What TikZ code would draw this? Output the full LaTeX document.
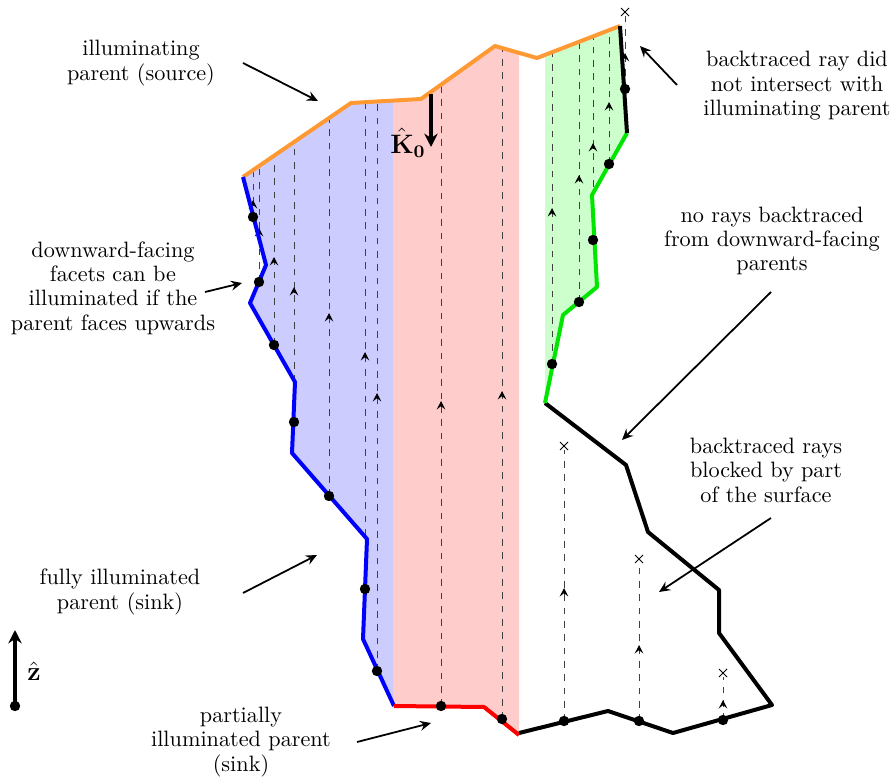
\documentclass[tikz,border=0pt]{standalone}
\usetikzlibrary{arrows.meta}
\definecolor{orangeline}{RGB}{255,153,51}
\definecolor{greenline}{RGB}{0,230,0}
\definecolor{bluefill}{RGB}{204,204,255}
\definecolor{redfill}{RGB}{255,204,204}
\definecolor{greenfill}{RGB}{204,255,204}
\newcommand{\crs}[2]{\draw[line width=0.45pt] ({#1-4},{#2-4}) -- ({#1+4},{#2+4}) ({#1-4},{#2+4}) -- ({#1+4},{#2-4});}
\newcommand{\rtip}[2]{\draw[tipm] ({#1},{#2+5}) -- ({#1},{#2});}
\newcommand{\sdot}[2]{\fill ({#1},{#2}) circle (5.2);}
\begin{document}
\begin{tikzpicture}[x=0.45pt,y=-0.45pt,
  bnd/.style={line width=1.8pt, line join=round},
  ray/.style={dashed, black!75, line width=0.45pt},
  tipm/.style={-{Stealth[length=3.8pt,width=3.8pt,inset=1.5pt]}, black, line width=0.45pt},
  lab/.style={align=center, inner sep=0pt, font=\fontsize{10pt}{11pt}\selectfont},
  lbarrow/.style={-{Stealth[length=5pt,width=4.5pt,inset=1.8pt]}, line width=0.8pt},
  bigarrow/.style={-{Stealth[length=6pt,width=6pt]}, line width=1.8pt}]
\useasboundingbox (0,0) rectangle (896,782);

% fills
\fill[bluefill] (243,177) -- (351,103) -- (393,100.6) -- (393,706) -- (377,671) -- (363,639) -- (367,539) -- (292,453) -- (295,382) -- (250,303) -- (266,265) -- cycle;
\fill[redfill] (393,100.6) -- (421,99) -- (495,46) -- (519,52.9) -- (519,735) -- (484,707) -- (393,706) -- cycle;
\fill[greenfill] (545,55.5) -- (620,26) -- (627,133) -- (592,195) -- (597,287) -- (563,315) -- (545,403) -- cycle;

% rays blue
\draw[ray] (253,217) -- (253,170.1);
\draw[ray] (259,282) -- (259,166);
\draw[ray] (274,345) -- (274,155.8);
\draw[ray] (294,422) -- (294,142.1);
\draw[ray] (329,496) -- (329,118.1);
\draw[ray] (365,589) -- (365,102.2);
\draw[ray] (377,671) -- (377,101.5);
% rays red
\draw[ray] (441,706) -- (441,84.7);
\draw[ray] (502,719) -- (502,48);
% rays green
\draw[ray] (552,364) -- (552,52.2);
\draw[ray] (579,302) -- (579,41.8);
\draw[ray] (593,240) -- (593,36.4);
\draw[ray] (609,164) -- (609,30.2);
\draw[ray] (625,89) -- (625,16);
% rays black
\draw[ray] (564,721) -- (564,450);
\draw[ray] (639,721) -- (639,563);
\draw[ray] (723,720) -- (723,677);

% ray tips
\rtip{253}{200}\rtip{259}{228}\rtip{274}{257}\rtip{294}{287}\rtip{329}{313}\rtip{365}{352}\rtip{377}{393}
\rtip{441}{401}\rtip{502}{391}
\rtip{552}{208}\rtip{579}{175}\rtip{593}{143}\rtip{609}{102}\rtip{625}{53}
\rtip{564}{588}\rtip{639}{645}\rtip{723}{700}

% crosses
\crs{625}{12}\crs{564}{446}\crs{639}{559}\crs{723}{673}

% boundaries
\draw[bnd, orangeline] (243,177) -- (351,103) -- (421,99) -- (495,46) -- (537,58) -- (620,26);
\draw[bnd, blue] (243,177) -- (266,265) -- (250,303) -- (295,382) -- (292,453) -- (367,539) -- (363,639) -- (394,706);
\draw[bnd, red] (394,706) -- (484,707) -- (519,735);
\draw[bnd, black] (519,733) -- (608,711) -- (673,733) -- (772,705) -- (719,633) -- (719,590) -- (648,532) -- (626,465) -- (545,403);
\draw[bnd, greenline] (545,403) -- (563,315) -- (597,287) -- (592,195) -- (627,133);
\draw[bnd, black] (627,133) -- (620,26);

% dots
\sdot{253}{217}\sdot{259}{282}\sdot{274}{345}\sdot{294}{422}\sdot{329}{496}\sdot{365}{589}\sdot{377}{671}
\sdot{441}{706}\sdot{502}{719}
\sdot{552}{364}\sdot{579}{302}\sdot{593}{240}\sdot{609}{164}\sdot{625}{89}
\sdot{564}{721}\sdot{639}{721}\sdot{723}{720}

% K0 arrow
\coordinate (k0a) at (431,94);
\coordinate (k0b) at (431,147);
\draw[bigarrow] (k0a) -- (k0b);
\node[inner sep=0pt, font=\large] (k0) at (408,143) {$\hat{\mathbf{K}}_{\mathbf{0}}$};

% z arrow
\coordinate (za) at (15,706);
\coordinate (zb) at (15,630);
\draw[bigarrow] (za) -- (zb);
\fill (za) circle (5.2);
\node[inner sep=0pt, font=\large] (zl) at (34,671) {$\hat{\mathbf{z}}$};

% labels
\node[lab] (l1) at (141,63) {illuminating\\parent (source)};
\coordinate (a1s) at (243,63); \coordinate (a1e) at (318,101);
\draw[lbarrow] (a1s) -- (a1e);

\node[lab] (l2) at (797,86) {backtraced ray did\\not intersect with\\illuminating parent};
\coordinate (a2s) at (677,85); \coordinate (a2e) at (640,46);
\draw[lbarrow] (a2s) -- (a2e);

\node[lab] (l3) at (113,288) {downward-facing\\facets can be\\illuminated if the\\parent faces upwards};
\coordinate (a3s) at (205,292); \coordinate (a3e) at (242,283);
\draw[lbarrow] (a3s) -- (a3e);

\node[lab] (l4) at (772,241) {no rays backtraced\\from downward-facing\\parents};
\coordinate (a4s) at (771,292); \coordinate (a4e) at (622,440);
\draw[lbarrow] (a4s) -- (a4e);

\node[lab] (l5) at (766,470) {backtraced rays\\blocked by part\\of the surface};
\coordinate (a5s) at (771,518); \coordinate (a5e) at (659,592);
\draw[lbarrow] (a5s) -- (a5e);

\node[lab] (l6) at (120,592) {fully illuminated\\parent (sink)};
\coordinate (a6s) at (243,593); \coordinate (a6e) at (317,555);
\draw[lbarrow] (a6s) -- (a6e);

\node[lab] (l7) at (241,742) {partially\\illuminated parent\\(sink)};
\coordinate (a7s) at (357,742); \coordinate (a7e) at (431,723);
\draw[lbarrow] (a7s) -- (a7e);
\end{tikzpicture}
\end{document}
